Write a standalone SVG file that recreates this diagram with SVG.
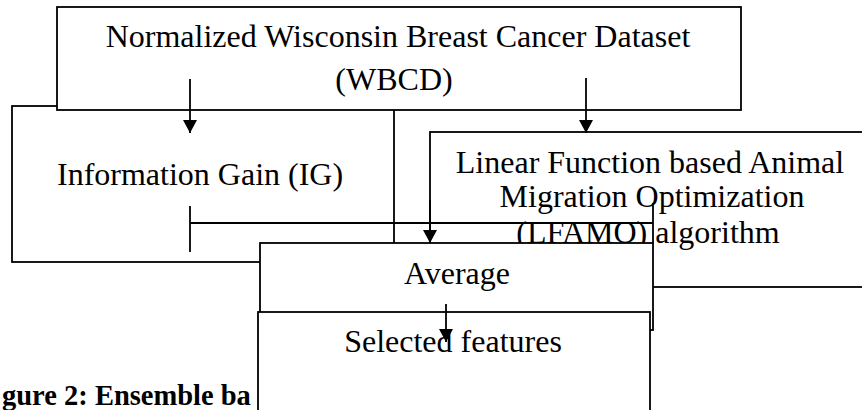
<svg xmlns="http://www.w3.org/2000/svg" width="862" height="410" viewBox="0 0 862 410">
<style>
.box{fill:#fff;stroke:#000;stroke-width:1.8}
.ln{fill:none;stroke:#000;stroke-width:1.8}
.t{font-family:"Liberation Serif","Times New Roman",serif;font-size:32px;fill:#000}
.m{text-anchor:middle}
.cap{font-family:"Liberation Serif","Times New Roman",serif;font-size:28.5px;font-weight:bold;fill:#000}
</style>
<defs>
<marker id="ah" markerWidth="14" markerHeight="14" refX="13" refY="7" orient="auto" markerUnits="userSpaceOnUse">
<path d="M0,0 L13,7 L0,14 Z" fill="#000"/>
</marker>
</defs>
<rect width="862" height="410" fill="#fff"/>
<text class="cap" x="2" y="405">gure 2: Ensemble ba</text>
<g id="node-ig">
<rect class="box" x="12" y="106" width="382" height="156"/>
<text class="t" x="57" y="185">Information Gain (IG)</text>
</g>
<g id="node-wbcd">
<rect class="box" x="57" y="7" width="684" height="103"/>
<text class="t m" x="398" y="47">Normalized Wisconsin Breast Cancer Dataset</text>
<text class="t m" x="394" y="90">(WBCD)</text>
</g>
<g id="node-lfamo">
<rect class="box" x="430" y="132" width="450" height="155"/>
<text class="t m" x="650" y="173">Linear Function based Animal</text>
<text class="t m" x="652" y="207">Migration Optimization</text>
<text class="t m" x="648" y="243">(LFAMO) algorithm</text>
</g>
<g id="connectors-upper">
<line class="ln" x1="190" y1="79" x2="190" y2="133" marker-end="url(#ah)"/>
<line class="ln" x1="586" y1="78" x2="586" y2="133" marker-end="url(#ah)"/>
<polyline class="ln" points="190,223 653,223"/>
<line class="ln" x1="190" y1="206" x2="190" y2="252"/>
<line class="ln" x1="653" y1="203" x2="653" y2="243"/>
</g>
<g id="node-average">
<rect class="box" x="260" y="243" width="393" height="87"/>
<text class="t m" x="457" y="284">Average</text>
</g>
<g id="node-selected">
<rect class="box" x="258" y="312" width="392" height="130"/>
<text class="t m" x="453" y="352">Selected features</text>
</g>
<g id="connectors">
<line class="ln" x1="430" y1="200" x2="430" y2="243" marker-end="url(#ah)"/>
<line class="ln" x1="446" y1="304" x2="446" y2="342" marker-end="url(#ah)"/>
</g>
</svg>
